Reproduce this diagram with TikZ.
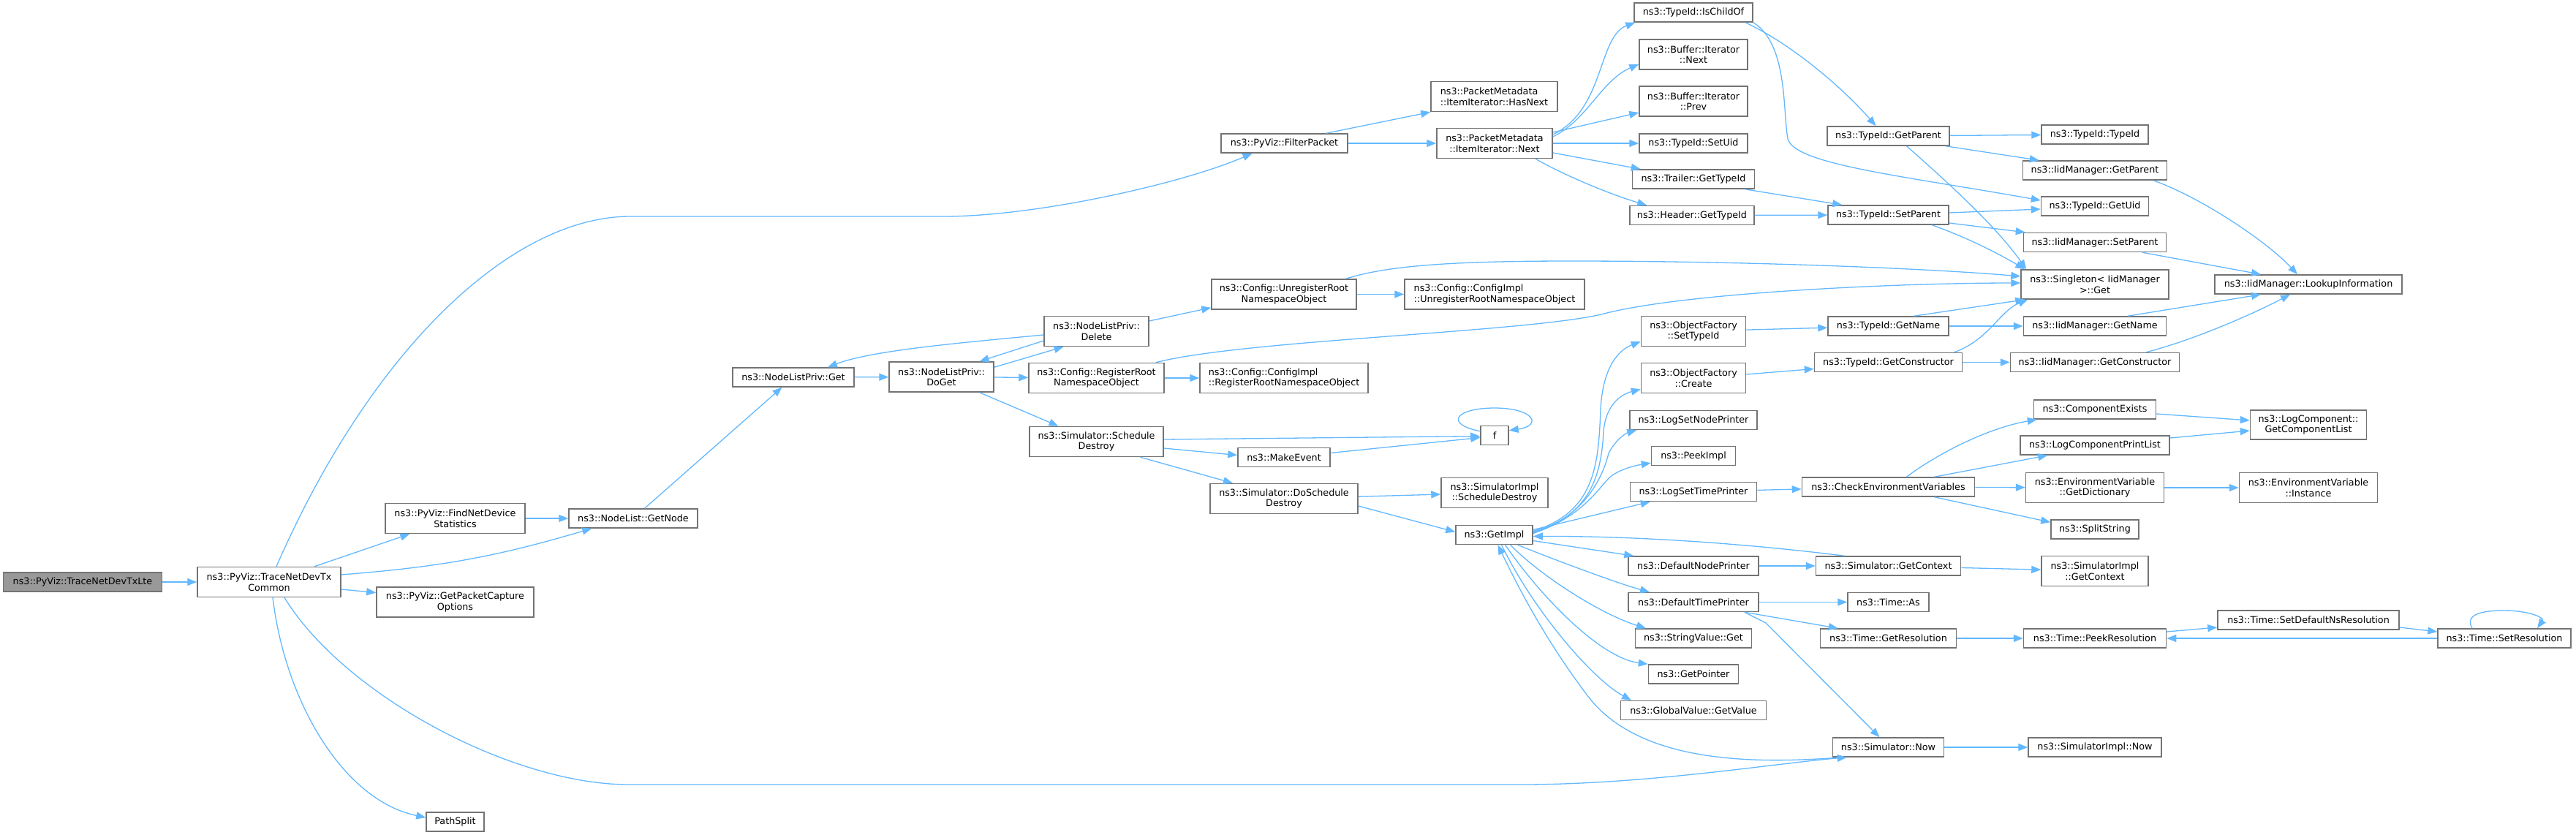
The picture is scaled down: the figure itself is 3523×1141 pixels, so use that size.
\documentclass[tikz,border=0pt]{standalone}
\usepackage{fontspec}
\setmainfont{DejaVu Sans}
\usepackage{tikz}
\usetikzlibrary{arrows.meta}
\definecolor{edgeblue}{HTML}{63B8FF}
\definecolor{boxline}{HTML}{737373}
\definecolor{rootfill}{HTML}{999999}

\begin{document}
\begin{tikzpicture}[x=1pt, y=-1pt,
    fn/.style={draw=boxline, fill=white, line width=1.5pt, inner sep=0pt, minimum height=26pt, align=center, font=\fontsize{12.75}{14.5}\selectfont},
    fn2/.style={fn, minimum height=41pt},
    root/.style={fn, fill=rootfill},
    call/.style={draw=edgeblue, line width=1.3pt, -{Triangle[length=13pt, width=10pt]}}]
    \useasboundingbox (0,0) rectangle (3523,1141);

    \node[root, minimum width=217pt] (txlte) at (113,796) {ns3::PyViz::TraceNetDevTxLte};
    \node[fn2, minimum width=196pt] (txcommon) at (368,796) {ns3::PyViz::TraceNetDevTx\\Common};
    \node[fn2, minimum width=191pt] (findstats) at (622.5,709) {ns3::PyViz::FindNetDevice\\Statistics};
    \node[fn2, minimum width=215pt] (capture) at (622.5,823.5) {ns3::PyViz::GetPacketCapture\\Options};
    \node[fn, minimum width=79pt] (pathsplit) at (622.5,1124) {PathSplit};
    \node[fn, minimum width=176pt] (getnode) at (866,709) {ns3::NodeList::GetNode};
    \node[fn, minimum width=166pt] (privget) at (1085,516) {ns3::NodeListPriv::Get};
    \node[fn2, minimum width=143pt] (doget) at (1287.5,515.5) {ns3::NodeListPriv::\\DoGet};
    \node[fn2, minimum width=143pt] (delete) at (1499.5,453) {ns3::NodeListPriv::\\Delete};
    \node[fn2, minimum width=185pt] (regroot) at (1499.5,517) {ns3::Config::RegisterRoot\\NamespaceObject};
    \node[fn2, minimum width=183pt] (schedest) at (1499.5,604) {ns3::Simulator::Schedule\\Destroy};
    \node[fn, minimum width=173pt] (filter) at (1756.5,196) {ns3::PyViz::FilterPacket};
    \node[fn2, minimum width=198pt] (unregroot) at (1756,402.5) {ns3::Config::UnregisterRoot\\NamespaceObject};
    \node[fn2, minimum width=230pt, align=left] (implreg) at (1756,517) {ns3::Config::ConfigImpl\\::RegisterRootNamespaceObject};
    \node[fn, minimum width=126pt] (makeevent) at (1756,625.5) {ns3::MakeEvent};
    \node[fn2, minimum width=202pt] (doschedest) at (1756,682) {ns3::Simulator::DoSchedule\\Destroy};
    \node[fn2, minimum width=173pt, align=left] (hasnext) at (2043.5,132) {ns3::PacketMetadata\\::ItemIterator::HasNext};
    \node[fn2, minimum width=158pt] (itnext) at (2044,196) {ns3::PacketMetadata\\::ItemIterator::Next};
    \node[fn2, minimum width=246pt, align=left] (implunreg) at (2044,402.5) {ns3::Config::ConfigImpl\\::UnregisterRootNamespaceObject};
    \node[fn, minimum width=38pt] (f) at (2044,595.5) {f};
    \node[fn2, minimum width=146pt] (implsched) at (2044,674) {ns3::SimulatorImpl\\::ScheduleDestroy};
    \node[fn, minimum width=105pt] (getimpl) at (2043.5,731.5) {ns3::GetImpl};

    \node[fn, minimum width=162pt] (ischild) at (2316,17) {ns3::TypeId::IsChildOf};
    \node[fn2, minimum width=148pt] (bufnext) at (2316,74.5) {ns3::Buffer::Iterator\\::Next};
    \node[fn2, minimum width=148pt] (bufprev) at (2316,138.5) {ns3::Buffer::Iterator\\::Prev};
    \node[fn, minimum width=148pt] (setuid) at (2316,196) {ns3::TypeId::SetUid};
    \node[fn, minimum width=167pt] (trailer) at (2316,245) {ns3::Trailer::GetTypeId};
    \node[fn, minimum width=170pt] (header) at (2314,294.5) {ns3::Header::GetTypeId};
    \node[fn2, minimum width=143pt] (objsettype) at (2316,453) {ns3::ObjectFactory\\::SetTypeId};
    \node[fn2, minimum width=143pt] (objcreate) at (2316,517) {ns3::ObjectFactory\\::Create};
    \node[fn, minimum width=174pt] (logsetnode) at (2316,574.5) {ns3::LogSetNodePrinter};
    \node[fn, minimum width=115pt] (peekimpl) at (2316,623.5) {ns3::PeekImpl};
    \node[fn, minimum width=173pt] (logsettime) at (2316,672.5) {ns3::LogSetTimePrinter};
    \node[fn, minimum width=178pt] (defnode) at (2316,774) {ns3::DefaultNodePrinter};
    \node[fn, minimum width=178pt] (deftime) at (2316,823.5) {ns3::DefaultTimePrinter};
    \node[fn, minimum width=159pt] (strval) at (2316,873) {ns3::StringValue::Get};
    \node[fn, minimum width=123pt] (getptr) at (2316,922) {ns3::GetPointer};
    \node[fn, minimum width=199pt] (globval) at (2316,971.5) {ns3::GlobalValue::GetValue};

    \node[fn, minimum width=167pt] (tgetparent) at (2582.5,186) {ns3::TypeId::GetParent};
    \node[fn, minimum width=165pt] (tsetparent) at (2582.5,294) {ns3::TypeId::SetParent};
    \node[fn, minimum width=165pt] (tgetname) at (2582.5,446) {ns3::TypeId::GetName};
    \node[fn, minimum width=202pt] (tgetctor) at (2582.5,495.5) {ns3::TypeId::GetConstructor};
    \node[fn, minimum width=236pt] (checkenv) at (2582.5,666) {ns3::CheckEnvironmentVariables};
    \node[fn, minimum width=198pt] (simctx) at (2582.5,774) {ns3::Simulator::GetContext};
    \node[fn, minimum width=111pt] (timeas) at (2582.5,823.5) {ns3::Time::As};
    \node[fn, minimum width=186pt] (getres) at (2582.5,873) {ns3::Time::GetResolution};
    \node[fn, minimum width=152pt] (simnow) at (2582.5,1022) {ns3::Simulator::Now};

    \node[fn, minimum width=146pt] (ttypeid) at (2865,184) {ns3::TypeId::TypeId};
    \node[fn, minimum width=197pt] (iidgetparent) at (2865,233) {ns3::IidManager::GetParent};
    \node[fn, minimum width=147pt] (getuid) at (2865,282) {ns3::TypeId::GetUid};
    \node[fn, minimum width=195pt] (iidsetparent) at (2865,331.5) {ns3::IidManager::SetParent};
    \node[fn, minimum width=202pt, minimum height=40pt] (singleton) at (2865,389) {ns3::Singleton< IidManager\\>::Get};
    \node[fn, minimum width=195pt] (iidgetname) at (2865,446) {ns3::IidManager::GetName};
    \node[fn, minimum width=231pt] (iidgetctor) at (2865,495.5) {ns3::IidManager::GetConstructor};
    \node[fn, minimum width=167pt] (compexists) at (2865,560) {ns3::ComponentExists};
    \node[fn, minimum width=204pt] (logcompprint) at (2865,609) {ns3::LogComponentPrintList};
    \node[fn2, minimum width=189pt] (getdict) at (2865,667) {ns3::EnvironmentVariable\\::GetDictionary};
    \node[fn, minimum width=120pt] (splitstr) at (2865,724) {ns3::SplitString};
    \node[fn2, minimum width=146pt] (implctx) at (2865,781) {ns3::SimulatorImpl\\::GetContext};
    \node[fn, minimum width=195pt] (peekres) at (2865,873) {ns3::Time::PeekResolution};
    \node[fn, minimum width=182pt] (implnow) at (2865,1022) {ns3::SimulatorImpl::Now};

    \node[fn, minimum width=256pt] (lookup) at (3157,389) {ns3::IidManager::LookupInformation};
    \node[fn, minimum width=159pt, minimum height=40pt] (complist) at (3157,581) {ns3::LogComponent::\\GetComponentList};
    \node[fn2, minimum width=189pt] (envinst) at (3157,667) {ns3::EnvironmentVariable\\::Instance};
    \node[fn, minimum width=248pt] (setdefres) at (3157,848) {ns3::Time::SetDefaultNsResolution};
    \node[fn, minimum width=182pt] (setres) at (3425,873) {ns3::Time::SetResolution};

    \draw[call] (txlte) -- (txcommon);
    \draw[call] (txcommon) -- (findstats);
    \draw[call] ([yshift=10pt]txcommon.east) to[bend right=6] ([xshift=32pt]getnode.south west);
    \draw[call] ([yshift=-10pt]txcommon.east) -- ([yshift=13pt]capture.west);
    \draw[call] ([xshift=5pt]txcommon.south) .. controls (390,960) and (470,1095) .. ([yshift=6pt]pathsplit.west);
    \draw[call] ([xshift=21pt]txcommon.south) .. controls (470,950) and (700,1073) .. (860,1073) -- (2080,1073) .. controls (2250,1073) and (2420,1045) .. ([xshift=20pt]simnow.south west);
    \draw[call] ([xshift=10pt]txcommon.north) .. controls (508,477) and (700,296) .. (862,296) -- (1290,296) .. controls (1420,296) and (1620,250) .. ([xshift=-44pt]filter.south);
    \draw[call] (findstats) -- (getnode);
    \draw[call] (getnode) -- (privget);
    \draw[call] (privget) -- (doget);
    \draw[call] ([yshift=-8pt]doget.north east) -- ([xshift=-45pt]delete.south);
    \draw[call] ([yshift=-13pt]delete.west) -- ([xshift=52pt]doget.north);
    \draw[call] ([yshift=-5pt]delete.west) .. controls (1300,470) and (1190,480) .. ([xshift=47pt]privget.north);
    \draw[call] ([yshift=14pt]delete.east) -- ([yshift=3pt]unregroot.south west);
    \draw[call] (doget) -- (regroot);
    \draw[call] ([xshift=52pt]doget.south) -- ([xshift=-52pt]schedest.north);
    \draw[call] (regroot) -- (implreg);
    \draw[call] ([xshift=-12pt]regroot.north east) .. controls (1700,465) and (2080,455) .. (2190,430) .. controls (2300,400) and (2600,387) .. ([yshift=2pt]singleton.west);
    \draw[call] (unregroot) -- (implunreg);
    \draw[call] ([xshift=-15pt]unregroot.north east) .. controls (1900,362) and (2000,357) .. (2150,357) .. controls (2400,357) and (2650,368) .. ([yshift=11pt]singleton.west);
    \draw[call] ([yshift=3pt]schedest.east) -- ([yshift=-1pt]f.west);
    \draw[call] ([yshift=-9pt]schedest.east) -- ([yshift=3pt]makeevent.west);
    \draw[call] ([xshift=60pt]schedest.south) -- ([xshift=-70pt]doschedest.north);
    \draw[call] ([yshift=6pt]makeevent.east) -- ([yshift=-3pt]f.west);
    \draw[call] ([yshift=-8pt]f.north west) .. controls (1975,580) and (1990,558) .. (2044,558) .. controls (2098,558) and (2110,582) .. ([yshift=-7pt]f.north east);
    \draw[call] (doschedest) -- (implsched);
    \draw[call] ([yshift=-10pt]doschedest.east) -- ([yshift=4pt]getimpl.west);

    \draw[call] ([xshift=-30pt]filter.north east) -- (hasnext.south west);
    \draw[call] (filter) -- (itnext);
    \draw[call] ([yshift=12pt]itnext.east) .. controls (2195,150) and (2185,50) .. ([xshift=2pt]ischild.south west);
    \draw[call] ([yshift=9pt]itnext.east) .. controls (2170,165) and (2190,110) .. ([yshift=8pt]bufnext.south west);
    \draw[call] ([yshift=15pt]itnext.east) -- ([yshift=-15.5pt]bufprev.west);
    \draw[call] (itnext) -- (setuid);
    \draw[call] ([yshift=-13pt]itnext.east) -- ([xshift=12pt]trailer.north west);
    \draw[call] ([xshift=56pt]itnext.south) .. controls (2140,240) and (2200,265) .. ([xshift=24pt]header.north west);
    \draw[call] ([xshift=-11pt]ischild.south east) .. controls (2450,60) and (2520,120) .. ([xshift=-17pt]tgetparent.north);
    \draw[call] (ischild.south east) .. controls (2445,60) and (2438,150) .. (2445,190) .. controls (2455,225) and (2600,240) .. ([yshift=8pt]getuid.west);
    \draw[call] ([xshift=-14pt]trailer.south east) -- ([xshift=20pt]tsetparent.north west);
    \draw[call] (header) -- (tsetparent);
    \draw[call] (tgetparent) -- (ttypeid);
    \draw[call] ([xshift=-6pt]tgetparent.south east) -- ([xshift=23pt]iidgetparent.north west);
    \draw[call] ([xshift=25pt]tgetparent.south) .. controls (2670,255) and (2730,310) .. ([xshift=8pt]singleton.north west);
    \draw[call] ([yshift=3pt]tsetparent.east) -- ([yshift=-4pt]getuid.west);
    \draw[call] ([yshift=-11pt]tsetparent.east) -- ([xshift=3pt]iidsetparent.north west);
    \draw[call] ([xshift=60pt]tsetparent.south) .. controls (2690,325) and (2730,345) .. ([xshift=6pt]singleton.north west);
    \draw[call] ([xshift=80pt]iidgetparent.south) .. controls (3010,270) and (3100,330) .. ([xshift=-15pt]lookup.north);
    \draw[call] ([xshift=65pt]iidsetparent.south) -- ([xshift=-65pt]lookup.north);
    \draw[call] ([xshift=35pt]tgetname.north) -- ([xshift=6pt]singleton.south west);
    \draw[call] (tgetname) -- (iidgetname);
    \draw[call] ([xshift=90pt]tgetctor.north) .. controls (2720,465) and (2735,425) .. ([xshift=10pt]singleton.south west);
    \draw[call] (tgetctor) -- (iidgetctor);
    \draw[call] ([xshift=45pt]iidgetname.north) -- ([xshift=-65pt]lookup.south);
    \draw[call] ([xshift=70pt]iidgetctor.north) .. controls (3000,465) and (3080,430) .. ([xshift=-25pt]lookup.south);
    \draw[call] (objsettype) -- (tgetname);
    \draw[call] ([yshift=5pt]objcreate.east) -- ([yshift=-9pt]tgetctor.west);

    \draw[call] ([yshift=5pt]getimpl.east) .. controls (2180,700) and (2186,640) .. (2189,560) .. controls (2192,500) and (2215,478) .. ([yshift=7pt]objsettype.south west);
    \draw[call] ([yshift=4pt]getimpl.east) .. controls (2175,705) and (2190,650) .. (2193,590) .. controls (2196,555) and (2215,540) .. ([yshift=6pt]objcreate.south west);
    \draw[call] ([yshift=3pt]getimpl.east) .. controls (2175,705) and (2195,640) .. (2200,620) .. controls (2210,600) and (2225,592) .. ([xshift=10pt]logsetnode.south west);
    \draw[call] ([yshift=2pt]getimpl.east) .. controls (2170,705) and (2190,660) .. (2205,650) .. controls (2220,640) and (2240,636) .. ([yshift=4pt]peekimpl.south west);
    \draw[call] ([yshift=7pt]getimpl.east) -- ([xshift=28pt]logsettime.south west);
    \draw[call] ([yshift=-8pt]getimpl.east) -- ([xshift=8pt]defnode.north west);
    \draw[call] ([xshift=32pt]getimpl.south) .. controls (2150,775) and (2220,800) .. ([xshift=-60pt]deftime.north);
    \draw[call] ([xshift=22pt]getimpl.south) .. controls (2110,790) and (2190,840) .. ([xshift=-65pt]strval.north);
    \draw[call] ([xshift=15pt]getimpl.south) .. controls (2110,820) and (2190,900) .. (getptr.north west);
    \draw[call] ([xshift=10pt]getimpl.south) .. controls (2100,840) and (2180,930) .. ([xshift=-85pt]globval.north);
    \draw[call] ([xshift=14pt]simnow.south west) .. controls (2400,1045) and (2240,1045) .. (2170,950) .. controls (2110,870) and (2075,800) .. ([xshift=5pt]getimpl.south);
    \draw[call] ([xshift=40pt]simctx.north west) .. controls (2400,745) and (2250,733) .. ([yshift=-2pt]getimpl.east);
    \draw[call] (defnode) -- (simctx);
    \draw[call] (deftime) -- (timeas);
    \draw[call] ([xshift=-20pt]deftime.south east) -- ([xshift=25pt]getres.north west);
    \draw[call] ([xshift=-20pt]deftime.south east) -- (2415,852) -- ([xshift=-12pt]simnow.north);
    \draw[call] (logsettime) -- (checkenv);
    \draw[call] ([xshift=25pt]checkenv.north) .. controls (2650,620) and (2720,585) .. ([xshift=5pt]compexists.south west);
    \draw[call] ([xshift=63pt]checkenv.north) -- ([xshift=38pt]logcompprint.south west);
    \draw[call] (checkenv) -- (getdict);
    \draw[call] ([xshift=63pt]checkenv.south) -- ([yshift=-4pt]splitstr.north west);
    \draw[call] ([yshift=-6pt]compexists.east) -- ([yshift=6pt]complist.west);
    \draw[call] ([yshift=10pt]logcompprint.east) -- ([yshift=-8pt]complist.west);
    \draw[call] (getdict) -- (envinst);
    \draw[call] (simctx) -- (implctx);
    \draw[call] (getres) -- (peekres);
    \draw[call] ([yshift=9pt]peekres.east) -- ([yshift=-10pt]setdefres.west);
    \draw[call] ([yshift=-10pt]setdefres.east) -- ([yshift=9pt]setres.west);
    \draw[call] (setres.west) -- (peekres.east);
    \draw[call] ([xshift=-44pt]setres.north) .. controls (3370,840) and (3395,835) .. (3424,835) .. controls (3460,835) and (3480,845) .. ([xshift=45pt]setres.north);
    \draw[call] (simnow) -- (implnow);
\end{tikzpicture}
\end{document}
